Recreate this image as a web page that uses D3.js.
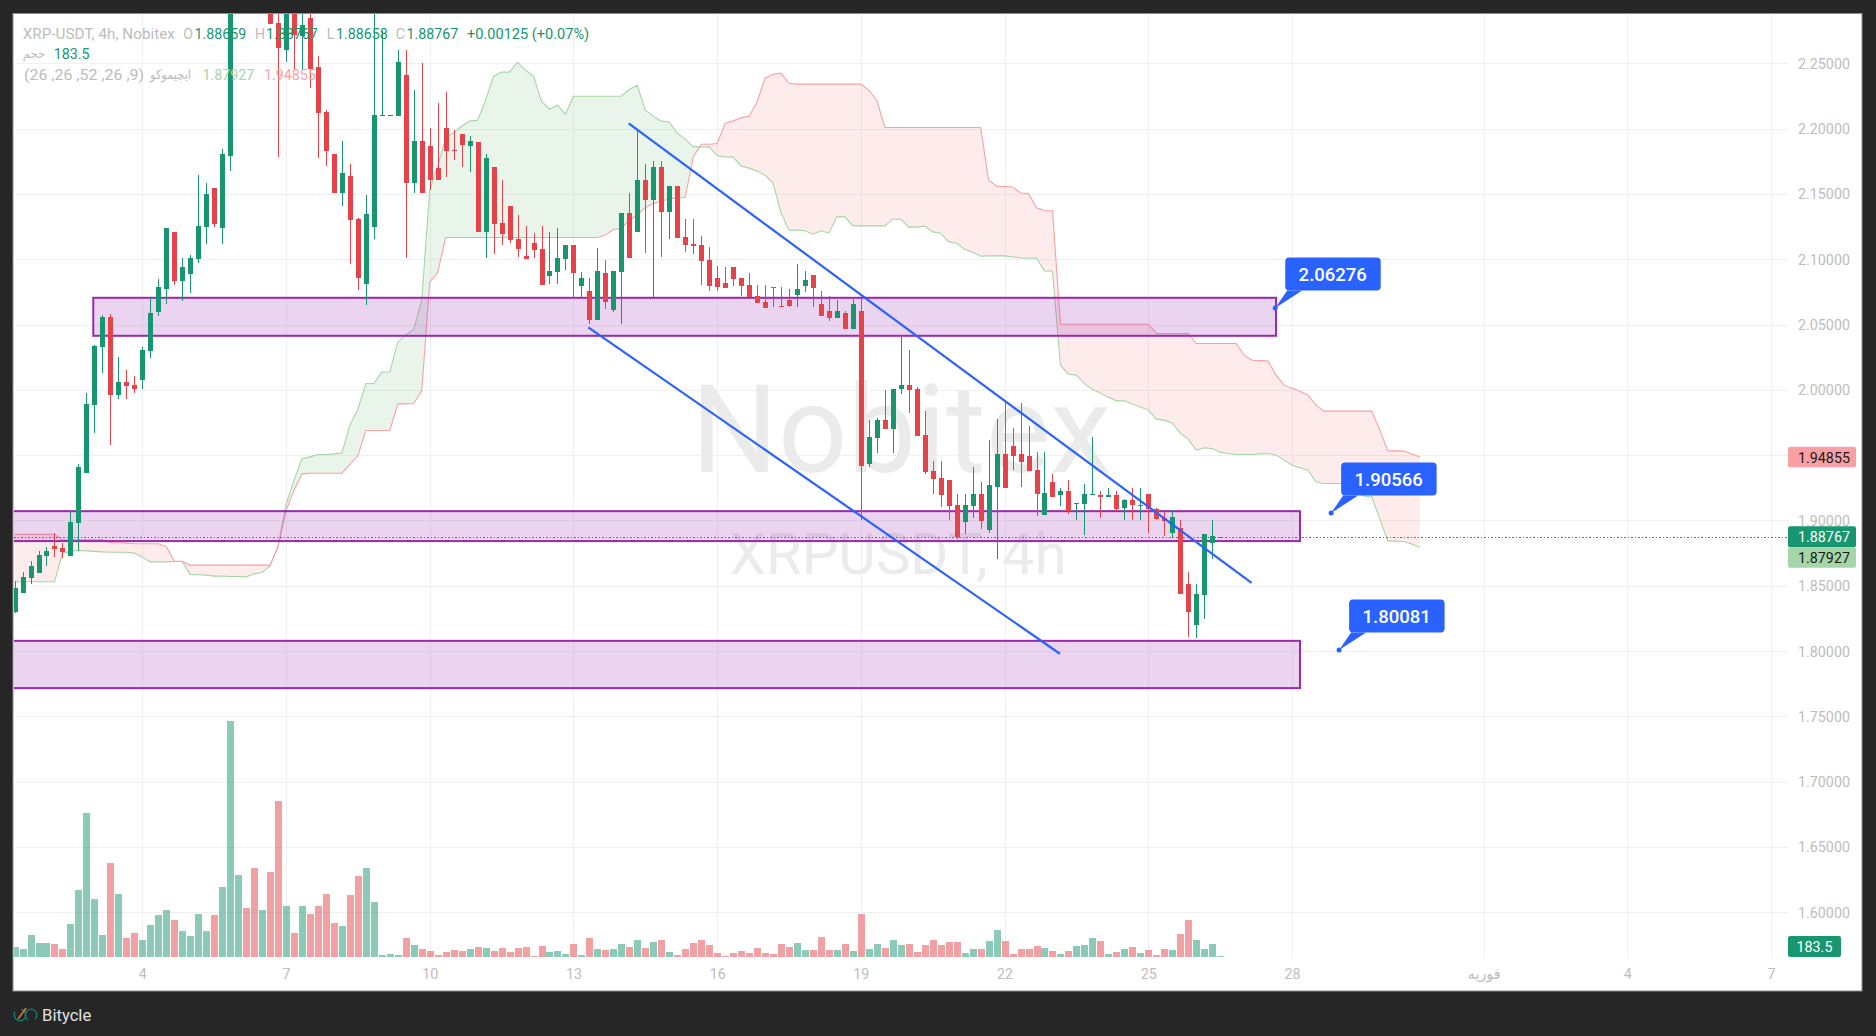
<!DOCTYPE html>
<html><head><meta charset="utf-8"><title>XRP-USDT 4h</title>
<script src="https://cdn.jsdelivr.net/npm/d3@7"></script>
<style>html,body{margin:0;padding:0;background:#262626;overflow:hidden}svg{display:block;position:absolute;left:0;top:0}text{font-family:Roboto,"DejaVu Sans",sans-serif}</style>
</head><body><svg id="c" width="1876" height="1036"></svg>
<script>
const opens=[1.8298,1.8443,1.8558,1.8596,1.8727,1.8803,1.8788,1.8727,1.8979,1.9362,
1.9883,2.0327,2.0557,1.9959,2.0059,2.0036,2.0074,2.0296,2.0595,2.0771,
2.1208,2.0832,2.0886,2.1001,2.1246,2.1544,2.1238,2.1790,2.31,2.33,
2.32,2.31,2.32,2.2808,2.2601,2.30,2.2708,2.2846,2.2471,2.2126,
2.1805,2.1506,2.1636,2.1307,2.0809,2.1246,2.2100,2.2100,2.2096,2.2410,
2.1583,2.1904,2.1866,2.1698,2.2004,2.1835,2.1958,2.1866,2.1897,2.1208,
2.1705,2.1276,2.1407,2.1154,2.1024,2.1123,2.1077,2.0871,2.0901,2.1001,
2.1108,2.0794,2.0756,2.0534,2.0894,2.0610,2.0901,2.1353,2.1208,2.1606,
2.1453,2.1705,2.1361,2.1560,2.1169,2.1116,2.1108,2.0993,2.0855,2.0817,
2.0940,2.0855,2.0802,2.0717,2.0672,2.0786,2.0641,2.0687,2.0725,2.0794,
2.0878,2.0656,2.0603,2.0549,2.0587,2.0465,2.0603,1.9431,1.9630,1.9768,
1.9699,2.0005,2.0036,2.0005,1.9653,1.9378,1.9324,1.9309,1.9117,1.8987,
1.9110,1.9201,1.8926,1.9255,1.9508,1.9569,1.9508,1.9492,1.9385,1.9041,
1.9293,1.9194,1.9224,1.9129,1.9125,1.9194,1.9194,1.9178,1.9194,1.9094,
1.9156,1.9110,1.9201,1.9087,1.9018,1.8903,1.8941,1.8512,1.8198,1.8428,
1.8826,1.88659];
const closes=[1.8482,1.8566,1.8650,1.8734,1.8765,1.8780,1.8757,1.8987,1.9408,1.9891,
2.0335,2.0557,1.9959,2.0059,2.0028,2.0005,2.0304,2.0587,2.0786,2.1238,
2.0832,2.0940,2.1008,2.1254,2.1499,2.1269,2.1805,2.31,2.33,2.32,
2.31,2.32,2.2800,2.2616,2.30,2.2716,2.2793,2.2456,2.2119,2.1828,
2.1506,2.1659,2.1299,2.0855,2.1345,2.2103,2.2103,2.2103,2.2509,2.1583,
2.1904,2.1506,2.1606,2.1606,2.1828,2.1831,2.1874,2.1904,2.1208,2.1774,
2.1269,2.1192,2.1146,2.1077,2.1001,2.1070,2.0802,2.0909,2.1008,2.1108,
2.0894,2.0855,2.0534,2.0909,2.0672,2.0909,2.1353,2.1008,2.1606,2.1453,
2.1705,2.1361,2.1560,2.1162,2.1108,2.1100,2.0986,2.0794,2.0786,2.0779,
2.0848,2.0794,2.0710,2.0664,2.0626,2.0779,2.0633,2.0641,2.0771,2.0840,
2.0779,2.0564,2.0549,2.0603,2.0465,2.0656,1.9416,1.9638,1.9768,1.9699,
2.0005,2.0036,1.9998,1.9646,1.9370,1.9316,1.9194,1.9110,1.8872,1.9117,
1.9201,1.8995,1.9270,1.9508,1.9247,1.9492,1.9446,1.9378,1.9201,1.9209,
1.9178,1.9224,1.9071,1.9133,1.9201,1.9201,1.9178,1.9194,1.9087,1.9156,
1.9117,1.9117,1.9087,1.9010,1.8995,1.9025,1.8436,1.8298,1.8436,1.8895,
1.8880,1.88767];
const highs=[1.8535,1.8604,1.8688,1.8765,1.8796,1.8903,1.8826,1.9071,1.9431,1.9975,
2.0342,2.0572,2.0580,2.0250,2.0151,2.0105,2.0327,2.0702,2.0848,2.1238,
2.1208,2.1008,2.1031,2.1644,2.1583,2.1544,2.1843,2.32,2.34,2.345,
2.335,2.33,2.33,2.295,2.31,2.31,2.30,2.295,2.2555,2.2142,
2.1805,2.1904,2.1728,2.1315,2.1491,2.30,2.2747,2.2103,2.2601,2.2601,
2.2295,2.2502,2.2004,2.2195,2.2280,2.1989,2.1958,2.1943,2.1897,2.1805,
2.1705,2.1606,2.1407,2.1338,2.1254,2.1200,2.1254,2.1208,2.1238,2.1108,
2.1108,2.0901,2.0855,2.1085,2.0993,2.0909,2.1353,2.1506,2.1989,2.1728,
2.1751,2.1751,2.1560,2.1560,2.1307,2.1307,2.1177,2.1093,2.0947,2.0940,
2.0940,2.0855,2.0894,2.0802,2.0802,2.0786,2.0786,2.0771,2.0963,2.0909,
2.0878,2.0756,2.0717,2.0687,2.0603,2.0695,2.0695,1.9768,1.9783,1.9998,
2.0005,2.0404,2.0304,2.0021,1.9837,1.9454,1.9454,1.9309,1.9201,1.9201,
1.9408,1.9293,1.9615,1.9776,1.9914,1.9707,1.9898,1.9722,1.9523,1.9523,
1.9355,1.9247,1.9309,1.9133,1.9278,1.9638,1.9224,1.9247,1.9224,1.9163,
1.9247,1.9247,1.9201,1.9094,1.9064,1.9079,1.9002,1.8604,1.8512,1.8895,
1.9002,1.88767];
const lows=[1.8290,1.8443,1.8512,1.8596,1.8650,1.8719,1.8711,1.8727,1.8765,1.9362,
1.9668,2.0128,1.9577,1.9929,1.9929,1.9975,2.0005,2.0243,2.0564,2.0656,
2.0802,2.0679,2.0740,2.0970,2.1116,2.1246,2.1116,2.1675,2.30,2.315,
2.30,2.295,2.2800,2.1782,2.2509,2.2448,2.2456,2.2310,2.1774,2.1713,
2.1506,2.1407,2.0963,2.0763,2.0649,2.1154,2.2100,2.2100,2.2096,2.1008,
2.1506,2.1506,2.1529,2.1606,2.1629,2.1759,2.1705,2.1667,2.1208,2.1008,
2.1039,2.1108,2.1123,2.1016,2.1001,2.1008,2.0802,2.0809,2.0809,2.0917,
2.0702,2.0702,2.0503,2.0534,2.0618,2.0595,2.0503,2.1008,2.1208,2.1047,
2.0710,2.1016,2.1154,2.1162,2.1054,2.1039,2.0802,2.0756,2.0756,2.0779,
2.0794,2.0717,2.0710,2.0664,2.0626,2.0633,2.0633,2.0633,2.0633,2.0748,
2.0633,2.0564,2.0526,2.0549,2.0465,2.0465,1.9002,1.9408,1.9515,1.9699,
1.9515,1.9967,1.9822,1.9646,1.9355,1.9201,1.9102,1.9002,1.8857,1.8895,
1.9018,1.8934,1.8903,1.8704,1.9247,1.9385,1.9255,1.9378,1.9033,1.9041,
1.9178,1.9110,1.9048,1.9002,1.8888,1.9194,1.9018,1.9178,1.9071,1.9002,
1.9002,1.9002,1.8903,1.9002,1.8880,1.8865,1.8436,1.8106,1.8099,1.8244,
1.8704,1.88658];
const volumes=[1500,1200,3300,2100,2100,1950,1200,4950,10050,21600,
8700,3300,14100,9450,2850,3600,2550,4800,6300,7050,
5550,3900,3150,6450,3900,6300,10500,35400,12300,7350,
13350,7050,12750,23400,7650,3600,7650,6450,7650,9450,
5100,4650,9300,12150,13350,8250,300,450,300,2850,
1800,1200,900,300,750,1050,900,1200,1500,1350,
900,1350,750,1350,1500,150,1650,750,900,450,
1950,300,2850,1200,1050,1200,1950,1500,2550,1350,
2250,2550,750,300,1200,2100,2550,1800,600,150,
600,900,600,1350,600,450,1950,1500,2100,1050,
1050,3000,1050,1050,1950,900,6450,1200,1950,1350,
2550,1800,1950,750,1800,2550,1800,2250,2250,600,
1200,1200,2400,4050,2400,450,1200,1200,1650,1350,
900,450,900,1650,1800,2850,2400,450,750,1200,
1500,600,1050,300,1200,1050,3450,5550,2550,1200,
1950,183.5];
const spanA=[1.8530,1.8530,1.8530,1.8530,1.8530,1.8530,1.8747,1.8765,1.8770,1.8767,
1.8763,1.8759,1.8757,1.8757,1.8757,1.8750,1.8719,1.8683,1.8683,1.8683,
1.8686,1.8686,1.8587,1.8584,1.8581,1.8574,1.8574,1.8571,1.8571,1.8568,
1.8591,1.8602,1.8652,1.8803,1.9123,1.9309,1.9472,1.9487,1.9505,1.9505,
1.9510,1.9518,1.9730,1.9852,2.0049,2.0049,2.0136,2.0138,2.0365,2.0419,
2.0465,2.0687,2.1529,2.1713,2.1927,2.1973,2.2019,2.2058,2.2065,2.2218,
2.2402,2.2433,2.2433,2.2509,2.2448,2.2402,2.2211,2.2149,2.2180,2.2111,
2.2249,2.2249,2.2249,2.2249,2.2249,2.2249,2.2249,2.2302,2.2333,2.2142,
2.2096,2.2058,2.2052,2.1966,2.1920,2.1861,2.1861,2.1861,2.1792,2.1784,
2.1782,2.1715,2.1698,2.1675,2.1644,2.1583,2.1355,2.1223,2.1223,2.1218,
2.1192,2.1218,2.1200,2.1325,2.1325,2.1256,2.1256,2.1256,2.1256,2.1256,
2.1307,2.1307,2.1246,2.1246,2.1254,2.1210,2.1200,2.1133,2.1123,2.1077,
2.1054,2.1024,2.1026,2.1026,2.1026,2.1018,2.1011,2.1008,2.1008,2.0911,
2.0909,2.0189,2.0120,2.0113,2.0046,2.0005,1.9975,1.9944,1.9916,1.9916,
1.9891,1.9868,1.9845,1.9776,1.9768,1.9745,1.9668,1.9623,1.9538,1.9556,
1.9551,1.9523,1.9513,1.9505,1.9505,1.9505,1.9510,1.9513,1.9500,1.9462,
1.9423,1.9403,1.9385,1.9296,1.9283,1.9283,1.9283,1.9283,1.9232,1.9186,
1.9181,1.9010,1.8842,1.8842,1.8839,1.8819,1.87927];
const spanB=[1.8893,1.8893,1.8893,1.8893,1.8893,1.8893,1.8852,1.8852,1.8852,1.8852,
1.8852,1.8852,1.8829,1.8829,1.8826,1.8821,1.8821,1.8821,1.8821,1.8801,
1.8688,1.8688,1.8658,1.8658,1.8658,1.8658,1.8658,1.8658,1.8658,1.8658,
1.8658,1.8658,1.8658,1.8798,1.9074,1.9232,1.9357,1.9362,1.9362,1.9362,
1.9362,1.9362,1.9429,1.9495,1.9689,1.9689,1.9689,1.9689,1.9893,1.9893,
1.9896,1.9992,2.0825,2.0899,2.1167,2.1167,2.1167,2.1167,2.1167,2.1167,
2.1167,2.1167,2.1167,2.1167,2.1167,2.1167,2.1167,2.1167,2.1167,2.1167,
2.1167,2.1167,2.1167,2.1167,2.1185,2.1228,2.1236,2.1299,2.1338,2.1397,
2.1427,2.1445,2.1463,2.1470,2.1473,2.1784,2.1881,2.1881,2.1887,2.2040,
2.2060,2.2083,2.2096,2.2205,2.2387,2.2417,2.2425,2.2348,2.2341,2.2341,
2.2341,2.2341,2.2341,2.2341,2.2341,2.2341,2.2341,2.2295,2.2218,2.2009,
2.2009,2.2009,2.2009,2.2009,2.2009,2.2009,2.2009,2.2009,2.2009,2.2009,
2.2009,2.2009,2.1606,2.1560,2.1557,2.1554,2.1508,2.1504,2.1394,2.1374,
2.1371,2.0503,2.0503,2.0503,2.0503,2.0503,2.0503,2.0503,2.0503,2.0503,
2.0503,2.0503,2.0503,2.0432,2.0432,2.0432,2.0432,2.0432,2.0355,2.0355,
2.0355,2.0355,2.0355,2.0355,2.0266,2.0227,2.0224,2.0220,2.0113,2.0036,
2.0013,1.9990,1.9960,1.9883,1.9837,1.9837,1.9837,1.9837,1.9837,1.9837,
1.9837,1.9692,1.9533,1.9533,1.9531,1.9508,1.94855];
const priceTicks=[2.25,2.2,2.15,2.1,2.05,2,1.95,1.9,1.85,1.8,1.75,1.7,1.65,1.6];
const dateTickBars=[16,34,52,70,88,106,124,142,160,184,202,220];
const dateTickLabels=["4","7","10","13","16","19","22","25","28","فوریه","4","7"];
const zoneBars=[[9.86,158],[-3,161],[-3,161]];
const zonePrices=[[2.0705,2.0414],[1.9071,1.8842],[1.8078,1.7716]];
const trendBars=[[76.92,154.94],[71.86,130.93]];
const trendPrices=[[2.2040,1.8522],[2.0478,1.7979]];
const calloutBars=[157.9,164.9,165.9];
const calloutPrices=[2.06276,1.90566,1.80081];
const lastClose=1.88767,lastA=1.87927,lastB=1.94855,lastVol=183.5;

const GREEN="#189670",RED="#e4434a";
const svg=d3.select("#c");
const x=d3.scaleLinear().domain([0,151]).range([14.56,14.56+151*7.984]);
const y=d3.scaleLinear().domain([1.6,2.25]).range([912.2,63.4]);
const yV=d3.scaleLinear().domain([0,35400]).range([957,721]);
const idx=d3.range(closes.length);
const up=i=>closes[i]>=opens[i];

svg.append("rect").attr("x",13).attr("y",13.5).attr("width",1849).attr("height",977.5).attr("fill","#fff").attr("stroke","#8c8c8c").attr("stroke-width",1);
const defs=svg.append("defs");
defs.append("clipPath").attr("id","pane").append("rect").attr("x",14).attr("y",14).attr("width",1774).attr("height",976);

function label(p,tx,ty,str,o={}){
  return p.append("text").attr("transform",`translate(${tx},${ty}) scale(${o.sx||0.92},1)`)
   .attr("dy","0.36em").attr("text-anchor",o.anchor||"start").attr("fill",o.fill||"#bdbdbd")
   .attr("font-size",o.size||15.5).attr("font-weight",o.weight||400).text(str);
}
// grid
const grid=svg.append("g").attr("clip-path","url(#pane)");
grid.selectAll("line.h").data(priceTicks).join("line").attr("class","h").attr("x1",14).attr("x2",1788).attr("y1",d=>Math.round(y(d))+.5).attr("y2",d=>Math.round(y(d))+.5).attr("stroke","#f0f0f0");
grid.selectAll("line.v").data(dateTickBars).join("line").attr("class","v").attr("x1",d=>Math.round(x(d))+.5).attr("x2",d=>Math.round(x(d))+.5).attr("y1",14).attr("y2",957).attr("stroke","#f0f0f2");
// watermark
const wm=svg.append("g");
label(wm,901,428,"Nobitex",{size:122,fill:"#ebebeb",anchor:"middle",sx:1.0});
label(wm,898,553,"XRPUSDT, 4h",{size:58,fill:"#ebebeb",anchor:"middle",sx:1.0});

const pane=svg.append("g").attr("clip-path","url(#pane)");
// cloud
const cloudIdx=d3.range(spanA.length);
const areaG=d3.area().x(i=>x(i)).y0(i=>y(spanA[i])).y1(i=>y(Math.min(spanA[i],spanB[i])));
const areaR=d3.area().x(i=>x(i)).y0(i=>y(spanB[i])).y1(i=>y(Math.min(spanA[i],spanB[i])));
pane.append("path").attr("d",areaG(cloudIdx)).attr("fill","#a5d6a7").attr("fill-opacity",.24);
pane.append("path").attr("d",areaR(cloudIdx)).attr("fill","#f77c80").attr("fill-opacity",.15);
pane.append("path").attr("d",d3.line().x(i=>x(i)).y(i=>y(spanA[i]))(cloudIdx)).attr("fill","none").attr("stroke","#a5d6a7").attr("stroke-width",1.1);
pane.append("path").attr("d",d3.line().x(i=>x(i)).y(i=>y(spanB[i]))(cloudIdx)).attr("fill","none").attr("stroke","#faa1a4").attr("stroke-width",1.1);
// volume
pane.append("g").attr("shape-rendering","crispEdges").selectAll("rect").data(idx).join("rect")
 .attr("x",i=>Math.round(x(i))-3).attr("width",7)
 .attr("y",i=>yV(volumes[i])).attr("height",i=>957-yV(volumes[i]))
 .attr("fill",i=>up(i)?GREEN:RED).attr("fill-opacity",.5);
// zones
pane.selectAll("rect.zone").data(zonePrices).join("rect").attr("class","zone")
 .attr("x",(d,k)=>x(zoneBars[k][0])).attr("width",(d,k)=>x(zoneBars[k][1])-x(zoneBars[k][0]))
 .attr("y",d=>y(d[0])).attr("height",d=>y(d[1])-y(d[0]))
 .attr("fill","#9c27b0").attr("fill-opacity",.2).attr("stroke","#9c27b0").attr("stroke-width",2);
// candles
const cg=pane.append("g").attr("shape-rendering","crispEdges");
const c=cg.selectAll("g").data(idx).join("g");
c.append("line").attr("x1",i=>Math.round(x(i))+.5).attr("x2",i=>Math.round(x(i))+.5).attr("y1",i=>y(highs[i])).attr("y2",i=>y(lows[i])).attr("stroke",i=>up(i)?GREEN:RED);
c.append("rect").attr("x",i=>Math.round(x(i))-2).attr("width",5)
 .attr("y",i=>y(Math.max(opens[i],closes[i])))
 .attr("height",i=>Math.max(1,Math.abs(y(opens[i])-y(closes[i]))))
 .attr("fill",i=>up(i)?GREEN:RED);
// trend lines
pane.selectAll("line.t").data(trendBars).join("line").attr("class","t")
 .attr("x1",d=>x(d[0])).attr("x2",d=>x(d[1]))
 .attr("y1",(d,k)=>y(trendPrices[k][0])).attr("y2",(d,k)=>y(trendPrices[k][1]))
 .attr("stroke","#2962ff").attr("stroke-width",2.2);
// last price line
pane.append("line").attr("x1",14).attr("x2",1788).attr("y1",Math.round(y(lastClose))+.5).attr("y2",Math.round(y(lastClose))+.5)
 .attr("stroke",GREEN).attr("stroke-dasharray","1.5 2").attr("shape-rendering","crispEdges");
// callouts
calloutPrices.forEach((p,k)=>{
  const dx=x(calloutBars[k]),dy=y(p);
  const g=svg.append("g"),L=dx+10,B=dy-17.5;
  g.append("circle").attr("cx",dx).attr("cy",dy).attr("r",2.5).attr("fill","#2962ff");
  g.append("path").attr("d",d3.line()([[dx,dy],[L+2,B],[L+17,B]])+"Z").attr("fill","#2962ff");
  g.append("rect").attr("x",L).attr("y",B-33).attr("width",95.5).attr("height",33).attr("rx",4).attr("fill","#2962ff");
  label(g,L+47.5,B-16.5,d3.format(".5f")(p),{size:18.5,fill:"#fff",anchor:"middle",weight:500,sx:1});
});
// axes
const ay=svg.append("g").attr("transform","translate(1824,0)")
 .call(d3.axisRight(y).tickValues(priceTicks).tickSize(0).tickPadding(0).tickFormat(d3.format(".5f")));
ay.select(".domain").remove();
ay.selectAll("text").attr("x",0).attr("text-anchor","middle").attr("font-size",15.5).attr("fill","#bdbdbd").attr("font-family","Roboto").attr("transform","scale(.92,1)");
const ax=svg.append("g").attr("transform","translate(0,968)")
 .call(d3.axisBottom(x).tickValues(dateTickBars).tickSize(0).tickPadding(0).tickFormat((d,k)=>dateTickLabels[k]));
ax.select(".domain").remove();
ax.selectAll("text").attr("font-size",15.5).attr("fill","#bdbdbd").attr("font-family","Roboto,'DejaVu Sans'").attr("transform","scale(.92,1)");
// price tags
function tag(ty,h,w,bg,str,fill){
  svg.append("rect").attr("x",1788).attr("y",ty).attr("width",w).attr("height",h).attr("rx",2).attr("fill",bg);
  label(svg,1788+(w===68?36:26.5),ty+h/2,str,{anchor:"middle",fill,size:15.5});
}
const f5=d3.format(".5f");
tag(y(lastB)-10.3,20.6,68,"#fa9fa3",f5(lastB),"#1a1a1a");
tag(y(lastClose)-10.4,21,68,GREEN,f5(lastClose),"#fff");
tag(y(lastClose)+10.6,20.7,68,"#a5d6a7",f5(lastA),"#1a1a1a");
tag(936,21,53,GREEN,String(lastVol),"#fff");
// legend
const lg=svg.append("g");
const LY=33;
label(lg,22.7,LY,"XRP-USDT, 4h, Nobitex",{sx:.985});
[[183.3,"O"],[255,"H"],[326.8,"L"],[395.8,"C"]].forEach(d=>label(lg,d[0],LY,d[1]));
label(lg,194.5,LY,f5(opens[151]),{fill:GREEN});
label(lg,266,LY,f5(highs[151]),{fill:GREEN});
label(lg,336,LY,f5(lows[151]),{fill:GREEN});
label(lg,406.5,LY,f5(closes[151]),{fill:GREEN});
label(lg,467,LY,"+0.00125 (+0.07%)",{fill:GREEN,sx:.94});
label(lg,22.7,53.5,"حجم",{size:13,sx:.9});
label(lg,53.8,53.5,String(lastVol),{fill:GREEN});
label(lg,24,74.5,"(26 ,26 ,52 ,26 ,9)",{sx:1.03});
label(lg,150,74.5,"ایچیموکو",{size:13,sx:.88});
label(lg,202.5,74.5,f5(lastA),{fill:"#a5d6a7"});
label(lg,264,74.5,f5(lastB),{fill:"#faa1a4"});
// footer
const ft=svg.append("g");
ft.append("path").attr("d",d3.arc()({innerRadius:5.2,outerRadius:6.4,startAngle:0.2,endAngle:5.3})).attr("transform","translate(20,1015)").attr("fill","#0f8a78");
ft.append("path").attr("d",d3.arc()({innerRadius:5.2,outerRadius:6.4,startAngle:-2.6,endAngle:2.4})).attr("transform","translate(31,1015)").attr("fill","#0f8a78");
ft.append("line").attr("x1",18).attr("y1",1019).attr("x2",26).attr("y2",1008).attr("stroke","#e07b39").attr("stroke-width",1.5);
label(ft,42,1015,"Bitycle",{size:17,fill:"#e0e0e0",sx:.98});
</script></body></html>
